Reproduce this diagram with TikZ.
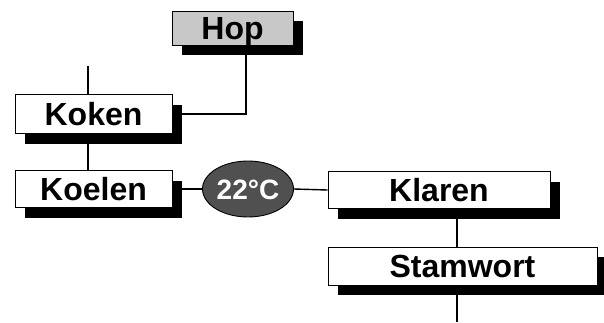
\documentclass[tikz,border=0pt]{standalone}
\usepackage{fontspec}
\setmainfont{Liberation Sans}
\usetikzlibrary{shadows,backgrounds,shapes.geometric}
\begin{document}
\begin{tikzpicture}[x=1pt,y=-1pt,
  stepbox/.style={draw=black,line width=0.9pt,fill=white,inner sep=0pt,
    font=\fontsize{32}{32}\selectfont\bfseries,text height=23pt,text depth=0pt,
    drop shadow={shadow xshift=10pt,shadow yshift=-10pt,fill=black,opacity=1}},
  conn/.style={line width=1.4pt,black}]
\useasboundingbox (0,0) rectangle (604,322);
\node[stepbox,fill={rgb,255:red,200;green,200;blue,200},minimum width=121pt,minimum height=34pt] (Hop) at (232.5,28) {Hop};
\node[stepbox,minimum width=157pt,minimum height=39pt] (Koken) at (93.5,114) {Koken};
\node[stepbox,minimum width=157pt,minimum height=37pt] (Koelen) at (93.5,189) {Koelen};
\node[stepbox,minimum width=222pt,minimum height=37pt] (Klaren) at (439,190) {Klaren};
\node[stepbox,minimum width=269pt,minimum height=38pt] (Stamwort) at (462.5,266) {Stamwort};
\node[ellipse,draw=black,line width=0.9pt,fill={rgb,255:red,80;green,80;blue,80},text=white,
  minimum width=91pt,minimum height=56pt,inner sep=0pt,text height=20pt,text depth=0pt,
  font=\fontsize{28}{28}\selectfont\bfseries] (Temp) at (248,189) {22°C};
\coordinate (topfree) at (88,66);
\coordinate (hopx) at (246,60);
\coordinate (stamx) at (457,300);
\coordinate (bottomfree) at (457,322);
\begin{scope}[on background layer]
\draw[conn] (topfree) -- (topfree |- Koken.north);
\draw[conn] (topfree |- Koken.south) -- (topfree |- Koelen.north);
\draw[conn] (Koken.east) -| (hopx |- Hop.south);
\draw[conn] (Koelen.east) -- (Temp.west);
\draw[conn] (Temp.east) -- (Klaren.west);
\draw[conn] (stamx |- Klaren.south) -- (stamx |- Stamwort.north);
\draw[conn] (stamx |- Stamwort.south) -- (bottomfree);
\end{scope}
\end{tikzpicture}
\end{document}
